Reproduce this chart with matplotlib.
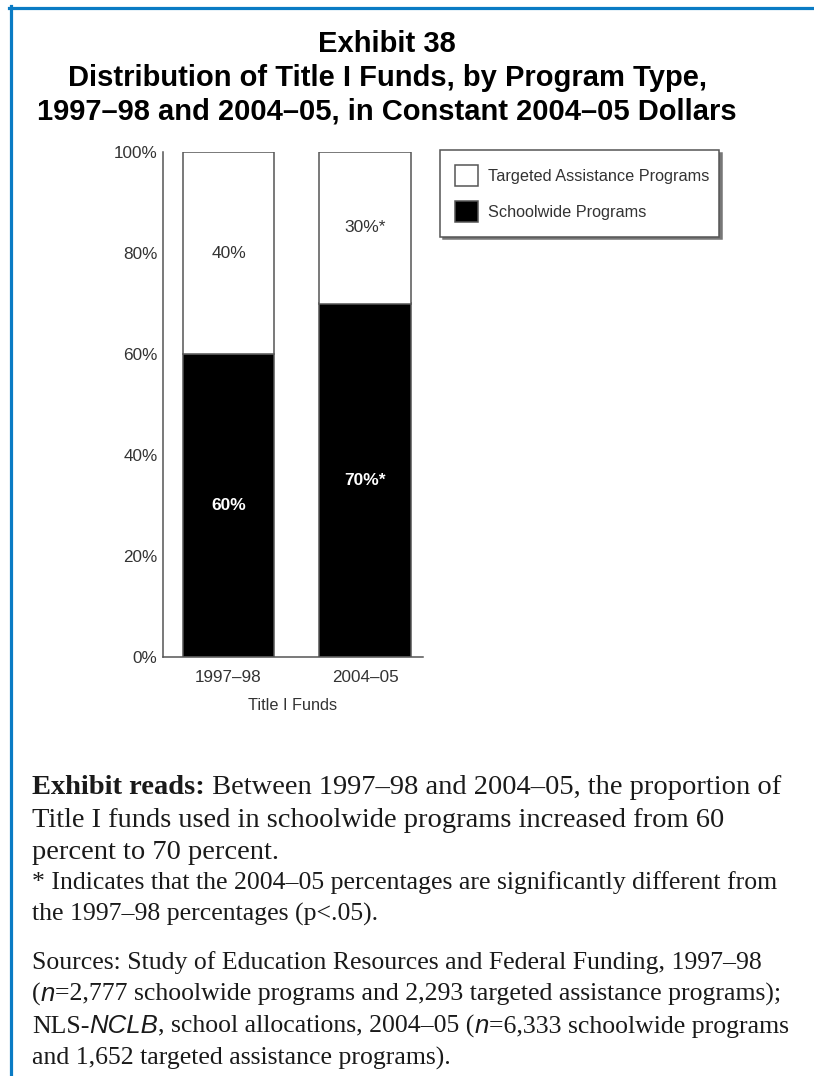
import matplotlib
matplotlib.use("Agg")
import matplotlib.pyplot as plt
from matplotlib.patches import Patch
from matplotlib.lines import Line2D

# data
years = ["1997\u201398", "2004\u201305"]
schoolwide = [60, 70]
targeted = [40, 30]
schoolwide_lbl = ["60%", "70%*"]
targeted_lbl = ["40%", "30%*"]
yticks = [0, 20, 40, 60, 80, 100]

W, H = 814, 1076
fig = plt.figure(figsize=(W / 100, H / 100), dpi=100)
renderer = fig.canvas.get_renderer()

sans = ["Liberation Sans", "DejaVu Sans"]
serif = ["Liberation Serif", "DejaVu Serif"]


def fx(px):
    return px / W


def fy(py):
    return 1 - py / H


# blue frame (top and left)
fig.add_artist(Line2D([fx(9), fx(814)], [fy(7.5), fy(7.5)], color="#0a7bc4", lw=2.3))
fig.add_artist(Line2D([fx(10.5), fx(10.5)], [fy(6), fy(1076)], color="#0a7bc4", lw=2.3))

# title
titre = ["Exhibit 38",
         "Distribution of Title I Funds, by Program Type,",
         "1997\u201398 and 2004\u201305, in Constant 2004\u201305 Dollars"]
for i, ligne in enumerate(titre):
    fig.text(fx(387), fy(44 + 34 * i), ligne, ha="center", va="center",
             fontsize=21, fontweight="bold", family=sans)

# axes
ax = fig.add_axes([fx(163), fy(657), fx(423) - fx(163), fy(152) - fy(657)])
x = [0, 1]
ax.bar(x, schoolwide, width=0.67, color="black", edgecolor="#555555", linewidth=1.1,
       label="Schoolwide Programs")
ax.bar(x, targeted, width=0.67, bottom=schoolwide, color="white", edgecolor="#555555",
       linewidth=1.1, label="Targeted Assistance Programs")

for i in range(len(x)):
    ax.text(x[i], schoolwide[i] / 2, schoolwide_lbl[i], ha="center", va="center",
            color="white", fontweight="bold", fontsize=12.5, family=sans)
    ax.text(x[i], schoolwide[i] + targeted[i] / 2, targeted_lbl[i], ha="center", va="center",
            color="#333333", fontsize=12.5, family=sans)

ax.set_xlim(-0.48, 1.425)
ax.set_ylim(0, 100)
ax.set_yticks(yticks)
ax.set_yticklabels([str(v) + "%" for v in yticks], family=sans, fontsize=12.3, color="#333333")
ax.set_xticks(x)
ax.set_xticklabels(years, family=sans, fontsize=12.3, color="#333333")
ax.tick_params(axis="both", length=0)
ax.tick_params(axis="y", pad=4)
ax.tick_params(axis="x", pad=9)
ax.set_xlabel("Title I Funds", family=sans, fontsize=11.7, color="#333333", labelpad=10)
for s in ["top", "right"]:
    ax.spines[s].set_visible(False)
for s in ["left", "bottom"]:
    ax.spines[s].set_color("#555555")
    ax.spines[s].set_linewidth(1.1)

# legend
handles = [Patch(facecolor="white", edgecolor="#555555", linewidth=1.1),
           Patch(facecolor="black", edgecolor="#555555", linewidth=1.1)]
noms = ["Targeted Assistance Programs", "Schoolwide Programs"]
leg = fig.legend(handles, noms, loc="upper left",
                 bbox_to_anchor=(fx(440), fy(150), fx(719) - fx(440), 0), mode="expand",
                 prop={"family": sans, "size": 11.7}, frameon=True, fancybox=False,
                 edgecolor="#555555", borderpad=0.9, handlelength=1.45, handleheight=1.65,
                 handletextpad=0.6, labelspacing=0.9, borderaxespad=0,
                 shadow={"color": "#777777", "alpha": 1})
leg.get_frame().set_linewidth(1.1)
for t in leg.get_texts():
    t.set_color("#333333")


def ligne(px, py, morceaux, taille):
    # draws a line of text pieces one after the other
    xx = fx(px)
    for txt, kw in morceaux:
        opts = {"family": serif}
        opts.update(kw)
        t = fig.text(xx, fy(py), txt, fontsize=taille, va="baseline", color="#1a1a1a", **opts)
        bb = t.get_window_extent(renderer)
        xx = bb.x1 / W


ital = {"family": sans, "style": "italic"}

ligne(32, 794, [("Exhibit reads:", {"fontweight": "bold"}),
                (" Between 1997\u201398 and 2004\u201305, the proportion of", {})], 20.5)
ligne(32, 827, [("Title I funds used in schoolwide programs increased from 60", {})], 20.5)
ligne(32, 859, [("percent to 70 percent.", {})], 20.5)

ligne(32, 889, [("* Indicates that the 2004\u201305 percentages are significantly different from", {})], 18.5)
ligne(32, 921, [("the 1997\u201398 percentages (p<.05).", {})], 18.5)

ligne(32, 969, [("Sources: Study of Education Resources and Federal Funding, 1997\u201398", {})], 18.5)
ligne(32, 1001, [("(", {}), ("n", ital),
                 ("=2,777 schoolwide programs and 2,293 targeted assistance programs);", {})], 18.5)
ligne(32, 1033, [("NLS-", {}), ("NCLB", ital), (", school allocations, 2004\u201305 (", {}),
                 ("n", ital), ("=6,333 schoolwide programs", {})], 18.5)
ligne(32, 1065, [("and 1,652 targeted assistance programs).", {})], 18.5)

fig.savefig("out.png", dpi=100)
